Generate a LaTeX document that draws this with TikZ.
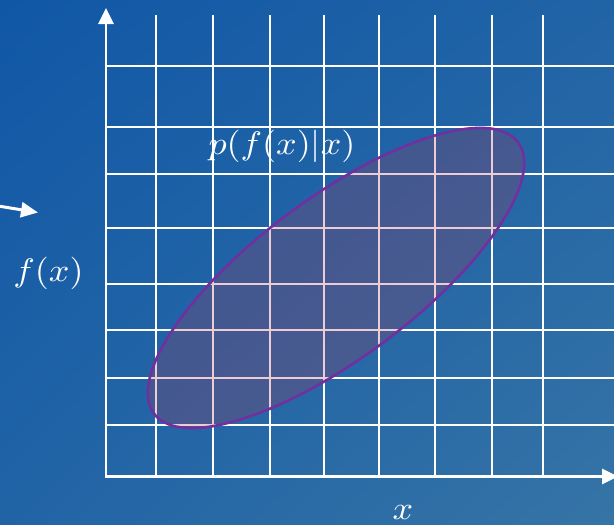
\documentclass[tikz,border=0pt]{standalone}
\usetikzlibrary{arrows.meta,shadings}
\definecolor{bgTL}{RGB}{16,87,166}
\definecolor{bgBR}{RGB}{54,116,166}
\definecolor{bgMid}{RGB}{33,100,166}
\definecolor{ellLine}{RGB}{112,48,160}
\definecolor{ellFill}{RGB}{180,50,75}
\begin{document}
\begin{tikzpicture}[x=1pt,y=-1pt,
  gridline/.style={white, line width=1.6pt},
  axis/.style={white, line width=2.8pt, -{Triangle[width=15pt,length=16pt]}},
  pointer/.style={white, line width=3pt, -{Triangle[width=15pt,length=17pt]}},
  lbl/.style={text=white, xscale=3.6, yscale=3.25, inner sep=0pt},
  blob/.style={draw=ellLine, line width=2.6pt, fill=ellFill, fill opacity=0.24}]
\useasboundingbox (0,0) rectangle (614,525);
\shade[upper left=bgTL, upper right=bgMid, lower left=bgMid, lower right=bgBR] (0,0) rectangle (614,525);
% grid
\foreach \gx in {156,213,270,324,379,435,492,543}
  \draw[gridline] (\gx,15) -- (\gx,475);
\foreach \gy in {66,127,174,228,284,330,378,425}
  \draw[gridline] (107,\gy) -- (614,\gy);
% axes
\coordinate (o) at (106,477.4);
\coordinate (ytip) at (106,8);
\coordinate (xtip) at (618,476.5);
\draw[axis] (o) -- (ytip);
\draw[axis] (105,476.5) -- (xtip);
% left pointer
\coordinate (la) at (-2,206);
\coordinate (lb) at (38,212.5);
\draw[pointer] (la) -- (lb);
% ellipse
\coordinate (ec) at (336,278);
\draw[blob, rotate around={36.7:(ec)}] (ec) ellipse [x radius=227pt, y radius=80pt];
% labels
\node[lbl] (fx) at (48.5,273) {$f(x)$};
\node[lbl] (xl) at (403,512) {$x$};
\node[lbl] (pl) at (282,146.5) {$p(f(x)|x)$};
\end{tikzpicture}
\end{document}
